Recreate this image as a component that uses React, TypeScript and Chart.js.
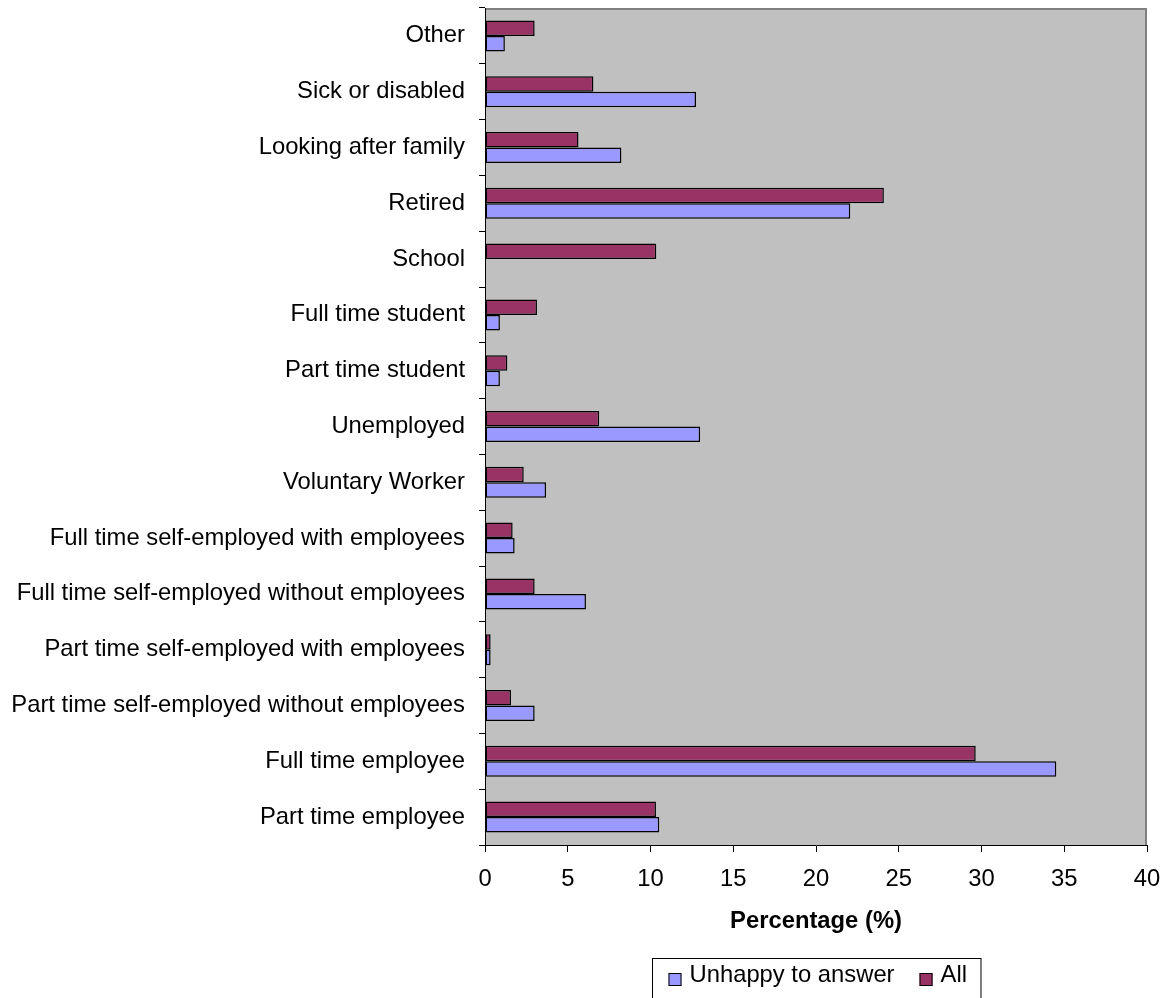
import React, { useEffect, useRef } from "react";
import { Chart, registerables } from "chart.js";

Chart.register(...registerables);

const categories: string[] = [
  "Other",
  "Sick or disabled",
  "Looking after family",
  "Retired",
  "School",
  "Full time student",
  "Part time student",
  "Unemployed",
  "Voluntary Worker",
  "Full time self-employed with employees",
  "Full time self-employed without employees",
  "Part time self-employed with employees",
  "Part time self-employed without employees",
  "Full time employee",
  "Part time employee",
];

const allValues: number[] = [
  3.0, 6.55, 5.65, 24.1, 10.35, 3.14, 1.35, 6.9, 2.34, 1.67, 3.0, 0.34, 1.57, 29.65, 10.33,
];

const unhappyValues: number[] = [
  1.2, 12.75, 8.24, 22.07, 0, 0.9, 0.9, 13.0, 3.69, 1.79, 6.1, 0.34, 3.0, 34.52, 10.53,
];

const xTicks: number[] = [0, 5, 10, 15, 20, 25, 30, 35, 40];

const seriesNames = { unhappy: "Unhappy to answer", all: "All" };
const colors = { unhappy: "#9999FF", all: "#993366" };

const FONT = "'Liberation Sans', Arial, sans-serif";
const FS = 23.8;

const plotBgPlugin = {
  id: "plotBg",
  beforeDraw(chart: any) {
    const { ctx, chartArea } = chart;
    ctx.save();
    ctx.fillStyle = "#C0C0C0";
    ctx.fillRect(chartArea.left, chartArea.top, chartArea.right - chartArea.left, chartArea.bottom - chartArea.top);
    ctx.strokeStyle = "#808080";
    ctx.lineWidth = 2;
    ctx.beginPath();
    ctx.moveTo(chartArea.left, chartArea.top + 1);
    ctx.lineTo(chartArea.right - 1, chartArea.top + 1);
    ctx.lineTo(chartArea.right - 1, chartArea.bottom);
    ctx.stroke();
    ctx.restore();
  },
};

const boxLegendPlugin = {
  id: "boxLegend",
  afterDraw(chart: any) {
    const { ctx, chartArea } = chart;
    const items = [
      { label: seriesNames.unhappy, color: colors.unhappy },
      { label: seriesNames.all, color: colors.all },
    ];
    ctx.save();
    ctx.font = `${FS}px ${FONT}`;
    const sq = 13;
    const gapSqText = 8;
    const gapItems = 25;
    const padL = 16;
    const padR = 14;
    let total = padL + padR;
    items.forEach((it, i) => {
      total += sq + gapSqText + ctx.measureText(it.label).width;
      if (i < items.length - 1) total += gapItems;
    });
    const cx = (chartArea.left + chartArea.right) / 2;
    const left = Math.round(cx - total / 2) + 0.5;
    const top = 958.5;
    ctx.strokeStyle = "#000";
    ctx.lineWidth = 1;
    ctx.strokeRect(left, top, total, 80);
    let x = left + padL;
    const textY = 975;
    items.forEach((it) => {
      ctx.fillStyle = it.color;
      ctx.fillRect(x, 973, sq, sq);
      ctx.strokeStyle = "#000";
      ctx.strokeRect(x + 0.5, 973.5, sq - 1, sq - 1);
      x += sq + gapSqText;
      ctx.fillStyle = "#000";
      ctx.textAlign = "left";
      ctx.textBaseline = "middle";
      ctx.fillText(it.label, x, textY);
      x += ctx.measureText(it.label).width + gapItems;
    });
    ctx.restore();
  },
};

export default function App() {
  const canvasRef = useRef<HTMLCanvasElement | null>(null);

  useEffect(() => {
    if (!canvasRef.current) return;
    Chart.defaults.font.family = FONT;
    Chart.defaults.color = "#000";
    const chart = new Chart(canvasRef.current, {
      type: "bar",
      data: {
        labels: categories,
        datasets: [
          {
            label: seriesNames.all,
            data: allValues,
            backgroundColor: colors.all,
            borderColor: "#000",
            borderWidth: 1.5,
            borderSkipped: false,
          },
          {
            label: seriesNames.unhappy,
            data: unhappyValues,
            backgroundColor: colors.unhappy,
            borderColor: "#000",
            borderWidth: 1.5,
            borderSkipped: false,
          },
        ],
      },
      options: {
        indexAxis: "y",
        animation: false,
        responsive: true,
        maintainAspectRatio: false,
        layout: { padding: { top: 8, right: 23, left: 0, bottom: 62 } },
        datasets: {
          bar: { categoryPercentage: 0.556, barPercentage: 1 },
        },
        plugins: {
          legend: { display: false },
          tooltip: { enabled: false },
        },
        scales: {
          x: {
            type: "linear",
            min: 0,
            max: 40,
            afterBuildTicks: (scale: any) => {
              scale.ticks = xTicks.map((v) => ({ value: v }));
            },
            afterFit: (scale: any) => {
              scale.height = 91;
              scale.paddingLeft = 0;
              scale.paddingRight = 0;
            },
            grid: {
              display: true,
              drawOnChartArea: false,
              drawTicks: true,
              tickLength: 7,
              color: "#000",
            },
            border: { display: true, color: "#000", width: 1 },
            ticks: {
              padding: 13,
              maxRotation: 0,
              font: { size: FS, family: FONT },
              color: "#000",
            },
            title: {
              display: true,
              text: "Percentage (%)",
              font: { size: FS, weight: "bold", family: FONT },
              color: "#000",
              padding: { top: 0, bottom: 0 },
            },
          },
          y: {
            type: "category",
            afterFit: (scale: any) => {
              scale.width = 485;
              scale.paddingTop = 0;
              scale.paddingBottom = 0;
            },
            grid: {
              display: true,
              offset: true,
              drawOnChartArea: false,
              drawTicks: true,
              tickLength: 6,
              color: "#000",
            },
            border: { display: true, color: "#000", width: 1 },
            ticks: {
              autoSkip: false,
              padding: 14,
              font: { size: FS, family: FONT },
              color: "#000",
            },
          },
        },
      } as any,
      plugins: [plotBgPlugin, boxLegendPlugin],
    });
    return () => chart.destroy();
  }, []);

  return (
    <div style={{ position: "absolute", left: 0, top: 0, width: 1170, height: 998, background: "#fff" }}>
      <canvas ref={canvasRef} />
    </div>
  );
}
